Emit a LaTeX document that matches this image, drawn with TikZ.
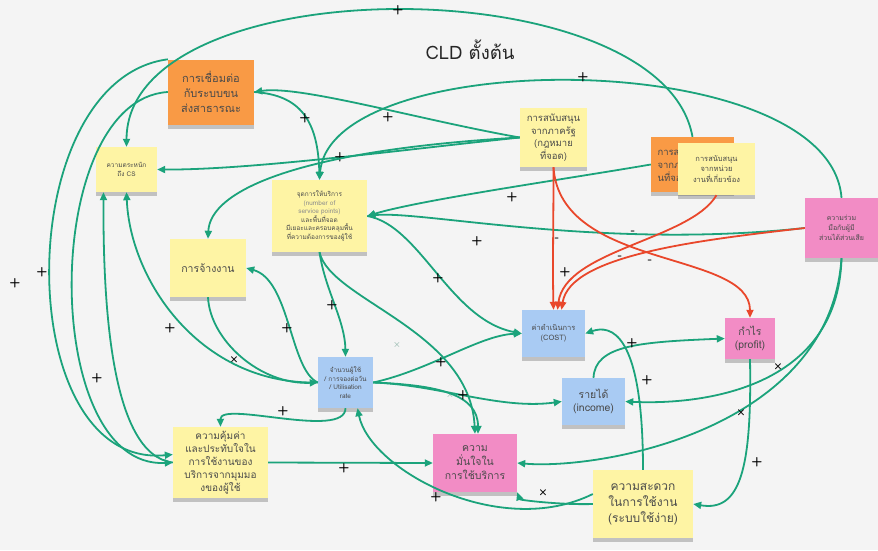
\documentclass[tikz,border=0pt]{standalone}
\usepackage{fontspec}
\newfontfamily\thai[Script=Thai]{Loma}
\usetikzlibrary{arrows.meta,shadows}
\definecolor{bg}{HTML}{F4F4F4}
\definecolor{ylw}{HTML}{FEF4A4}
\definecolor{org}{HTML}{F99A45}
\definecolor{blu}{HTML}{A9CBF3}
\definecolor{pnk}{HTML}{F28CC5}
\definecolor{grn}{HTML}{1BA37B}
\definecolor{rd}{HTML}{E9472B}
\definecolor{txt}{HTML}{4A4A4A}
\newcommand{\fs}[2]{\fontsize{#1}{#2}\selectfont}
\begin{document}
\begin{tikzpicture}[x=1pt,y=-1pt,
  note/.style={inner sep=2pt, align=center, text=txt,
    drop shadow={shadow xshift=0pt,shadow yshift=-4pt,opacity=.3,fill=black!70}},
  g/.style={draw=grn, line width=1.8pt, -{Triangle[length=8pt,width=7pt]}},
  r/.style={draw=rd, line width=1.8pt, -{Triangle[length=8pt,width=7pt]}},
  lbl/.style={font=\sffamily\bfseries\fs{13}{13}, text=black, inner sep=0pt},
  xlbl/.style={font=\sffamily\bfseries\fs{11}{11}, text=black, inner sep=0pt},
  glbl/.style={font=\sffamily\fs{10}{10}, text=grn!60!black!60, inner sep=0pt},
]
\useasboundingbox[fill=bg] (0,0) rectangle (878,550);

% title
\node[font=\thai\fs{18.5}{20}, text=black!85] (title) at (470,50) {CLD ตั้งต้น};

% sticky notes
\node[note, fill=org, minimum width=86, minimum height=65, font=\thai\fs{11}{15}] (pt) at (211,92)
  {การเชื่อมต่อ\\กับระบบขน\\ส่งสาธารณะ};
\node[note, fill=ylw, minimum width=61, minimum height=45, font=\thai\fs{6.5}{9}] (aw) at (126.5,169.5)
  {ความตระหนัก\\ถึง CS};
\node[note, fill=ylw, minimum width=95, minimum height=72, font=\thai\fs{6.5}{8.5}] (sp) at (319.5,216)
  {จุดการให้บริการ\\{\color{black!45}(number of}\\{\color{black!45}service points)}\\และพื้นที่จอด\\มีเยอะและครอบคลุมพื้น\\ที่ความต้องการของผู้ใช้};
\node[note, fill=ylw, minimum width=67, minimum height=59, font=\thai\fs{9.5}{12.5}] (gov) at (553.5,137.5)
  {การสนับสนุน\\จากภาครัฐ\\(กฎหมาย\\ที่จอด)};
\node[note, fill=org, minimum width=83, minimum height=55, font=\thai\fs{9.5}{13}, text width=70, align=left] (orp) at (692.5,164.5)
  {การสนับ\\จากภาค\\นที่จอด};
\node[note, fill=ylw, minimum width=77, minimum height=52, font=\thai\fs{7.5}{10.5}] (ag) at (716.5,169)
  {การสนับสนุน\\จากหน่วย\\งานที่เกี่ยวข้อง};
\node[note, fill=pnk, minimum width=73, minimum height=60, font=\thai\fs{7}{10}] (stk) at (841.5,228)
  {ความร่วม\\มือกับผู้มี\\ส่วนได้ส่วนเสีย};
\node[note, fill=ylw, minimum width=76, minimum height=58, font=\thai\fs{10.5}{13}] (emp) at (208,268)
  {การจ้างงาน};
\node[note, fill=blu, minimum width=55, minimum height=51, font=\thai\fs{6.5}{8.5}] (ut) at (345.5,382.5)
  {จำนวนผู้ใช้\\/ การจองต่อวัน\\/ Utilisation\\rate};
\node[note, fill=blu, minimum width=63, minimum height=47, font=\thai\fs{7.5}{10}] (cost) at (553.5,333.5)
  {ค่าดำเนินการ\\(COST)};
\node[note, fill=pnk, minimum width=50, minimum height=41, font=\thai\fs{10.5}{13}] (prof) at (750,338.5)
  {กำไร\\(profit)};
\node[note, fill=blu, minimum width=63, minimum height=47, font=\thai\fs{10.5}{13}] (inc) at (593.5,401.5)
  {รายได้\\(income)};
\node[note, fill=pnk, minimum width=84, minimum height=58, font=\thai\fs{10.5}{14}] (conf) at (475,463)
  {ความ\\มั่นใจใน\\การใช้บริการ};
\node[note, fill=ylw, minimum width=95, minimum height=71, font=\thai\fs{10}{13}] (val) at (220.5,462.5)
  {ความคุ้มค่า\\และประทับใจใน\\การใช้งานของ\\บริการจากมุมมอ\\งของผู้ใช้};
\node[note, fill=ylw, minimum width=100, minimum height=68, font=\thai\fs{12}{16}] (ease) at (643,504)
  {ความสะดวก\\ในการใช้งาน\\(ระบบใช้ง่าย)};

% long arcs over the top
\draw[g] (orp.north) .. controls (662,-34) and (127,-34) .. (aw.north);
\node[lbl] (l1) at (398,10) {+};
\draw[g] (stk.north) .. controls (830,45) and (330,45) .. (sp.north);
\node[lbl] (l2) at (583,77) {+};

% government support
\draw[g] (gov.west) .. controls (420,120) and (300,85) .. (pt.east);
\node[lbl] (l3) at (388,117) {+};
\draw[g] (pt.east) .. controls (300,95) and (318,120) .. (sp.north);
\node[lbl] (l4) at (305,118) {+};
\draw[g] (gov.west) .. controls (400,150) and (250,170) .. (aw.east);
\node[lbl] (l5) at (340,157) {+};
\draw[g] (gov.west) .. controls (300,150) and (210,190) .. (emp.north);
\draw[g] (orp.west) .. controls (560,180) and (420,200) .. (sp.east);
\node[lbl] (l6) at (512,197) {+};
\draw[g] (stk.west) .. controls (600,250) and (420,210) .. (sp.east);
\node[lbl] (l7) at (477,241) {+};

% cost and profit pressures
\draw[r] (gov.south) .. controls (553.5,230) and (552.5,260) .. (cost.north);
\node[lbl] (m1) at (557,240) {-};
\draw[r] (ag.south) .. controls (690,240) and (565,250) .. ([xshift=4]cost.north);
\node[lbl] (m2) at (633,233) {-};
\draw[r] (stk.west) .. controls (700,240) and (570,255) .. ([xshift=8]cost.north);
\node[lbl] (m3) at (620,258) {-};
\draw[r] (gov.south) .. controls (560,270) and (750,250) .. (prof.north);
\node[lbl] (m4) at (650,262) {-};
\node[lbl] (l8) at (565,272) {+};

% employment, utilisation, awareness
\draw[g] (ut.west) .. controls (290,370) and (290,280) .. (emp.east);
\node[lbl] (l9) at (287,328) {+};
\draw[g] (emp.south) .. controls (210,340) and (260,385) .. (ut.west);
\node[xlbl] (x1) at (234,360) {×};
\draw[g] (ut.west) .. controls (200,385) and (130,280) .. (aw.south);
\node[lbl] (l10) at (170,328) {+};
\draw[g] (ut.south) .. controls (345,440) and (220,400) .. (val.north);
\node[lbl] (l11) at (283,411) {+};
\draw[g] (val.west) .. controls (110,455) and (103,300) .. ([xshift=-23]aw.south);
\node[lbl] (l12) at (97,378) {+};
\draw[g] (val.east) -- (conf.west);
\node[lbl] (l13) at (344,468) {+};
\draw[g] (pt.west) .. controls (40,100) and (40,470) .. (val.west);
\node[lbl] (l14) at (42,272) {+};
\draw[g] (pt.north west) .. controls (10,80) and (10,470) .. ([yshift=8]val.west);
\node[lbl] (l15) at (15,283) {+};

% service points
\draw[g] (sp.south) .. controls (325,290) and (345,320) .. (ut.north);
\node[lbl] (l16) at (332,305) {+};
\draw[g] (sp.east) .. controls (420,225) and (450,320) .. (cost.west);
\node[lbl] (l17) at (438,278) {+};
\draw[g] (sp.south) .. controls (330,300) and (470,330) .. (conf.north);
\node[glbl] (x2) at (397,345) {×};

% utilisation outputs
\draw[g] (ut.east) .. controls (430,370) and (480,335) .. (cost.west);
\node[lbl] (l18) at (441,362) {+};
\draw[g] (ut.east) .. controls (440,385) and (500,410) .. (inc.west);
\node[glbl] (x3) at (450,395) {×};
\draw[g] (ut.east) .. controls (440,385) and (478,395) .. ([xshift=3]conf.north);
\node[lbl] (l19) at (463,395) {+};

% income, profit, ease of use
\draw[g] (ease.north) .. controls (643,330) and (610,325) .. (cost.east);
\node[lbl] (l20) at (647,380) {+};
\draw[g] (inc.north) .. controls (595,345) and (640,342) .. (prof.west);
\node[lbl] (l21) at (632,343) {+};
\draw[g] (prof.south) .. controls (752,470) and (740,512) .. (ease.east);
\node[lbl] (l22) at (757,462) {+};
\draw[g] (stk.south) .. controls (838,390) and (700,405) .. (inc.east);
\node[xlbl] (x4) at (778,367) {×};
\draw[g] (stk.south) .. controls (830,430) and (600,470) .. (conf.east);
\node[xlbl] (x5) at (741,413) {×};
\draw[g] (ease.west) .. controls (560,505) and (520,500) .. (conf.south east);
\node[xlbl] (x6) at (543,493) {×};
\draw[g] ([yshift=10]ease.west) .. controls (500,540) and (370,470) .. ([xshift=12]ut.south);
\node[lbl] (l23) at (436,497) {+};
\end{tikzpicture}
\end{document}
